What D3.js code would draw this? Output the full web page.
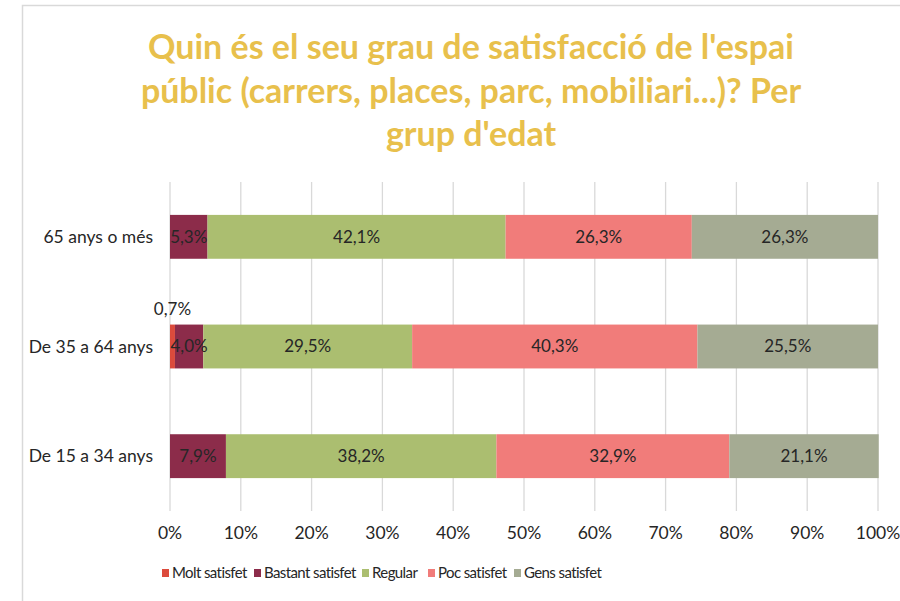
<!DOCTYPE html>
<html>
<head>
<meta charset="utf-8">
<script src="https://cdn.jsdelivr.net/npm/d3@7"></script>
<style>
body { margin:0; background:#fff; }
svg text { font-family: Lato, "Open Sans", sans-serif; }
</style>
</head>
<body>
<svg id="chart" width="900" height="601"></svg>
<script>
var groups = ["65 anys o més", "De 35 a 64 anys", "De 15 a 34 anys"];
var seriesNames = ["Molt satisfet", "Bastant satisfet", "Regular", "Poc satisfet", "Gens satisfet"];
var seriesColors = ["#dc4b3c", "#8c2c4a", "#abbe70", "#f17c7a", "#a5ab93"];
// values per group, in order of seriesNames
var molt    = [0, 0.7, 0];
var bastant = [5.3, 4.0, 7.9];
var regular = [42.1, 29.5, 38.2];
var poc     = [26.3, 40.3, 32.9];
var gens    = [26.3, 25.5, 21.1];
var xTicks = [0,10,20,30,40,50,60,70,80,90,100];
var titleLines = ["Quin és el seu grau de satisfacció de l'espai", "públic (carrers, places, parc, mobiliari...)? Per", "grup d'edat"];

var svg = d3.select("#chart");

//chart frame
svg.append("path")
	.attr("d","M22.5,601 L22.5,5.5 L900,5.5")
	.attr("fill","none")
	.attr("stroke","#d9d9d9")
	.attr("stroke-width",1.5);

//title
svg.append("g").selectAll("text")
	.data(titleLines)
	.enter().append("text")
	.attr("x",471)
	.attr("y",function(d,i){return 59 + i*43.5;})
	.attr("text-anchor","middle")
	.attr("font-size",34)
	.attr("font-weight","bold")
	.attr("fill","#e8c04c")
	.text(function(d){return d;});

var x = d3.scaleLinear().domain([0,100]).range([170,878]);
var y = d3.scaleBand().domain(groups).range([182,511]).paddingInner(0.6).paddingOuter(0.3);

//gridlines
svg.append("g").selectAll("line")
	.data(xTicks)
	.enter().append("line")
	.attr("x1",function(d){return x(d);})
	.attr("x2",function(d){return x(d);})
	.attr("y1",182)
	.attr("y2",511)
	.attr("stroke","#d9d9d9")
	.attr("stroke-width",1.3);

//stack data
var rows = groups.map(function(g,i){
	return {group:g, "Molt satisfet":molt[i], "Bastant satisfet":bastant[i], "Regular":regular[i], "Poc satisfet":poc[i], "Gens satisfet":gens[i]};
});
var stacked = d3.stack().keys(seriesNames)(rows);

var layers = svg.append("g").selectAll("g")
	.data(stacked)
	.enter().append("g")
	.attr("fill",function(d,i){return seriesColors[i];});

layers.selectAll("rect")
	.data(function(d){return d;})
	.enter().append("rect")
	.attr("x",function(d){return x(d[0]);})
	.attr("width",function(d){return x(d[1]) - x(d[0]);})
	.attr("y",function(d){return y(d.data.group);})
	.attr("height",y.bandwidth());

//data labels
function fmt(v){ return v.toFixed(1).replace(".",",") + "%"; }
stacked.forEach(function(s){
	s.forEach(function(d){
		var v = d[1] - d[0];
		if(v <= 0) return;
		var cx = (x(d[0]) + x(d[1])) / 2;
		var cy = y(d.data.group) + y.bandwidth()/2;
		if(v < 2){ cy = y(d.data.group) - 16; }
		svg.append("text")
			.attr("x",cx)
			.attr("y",cy)
			.attr("dy","0.35em")
			.attr("text-anchor","middle")
			.attr("font-size",17)
			.attr("fill","#262626")
			.text(fmt(v));
	});
});

//category axis labels
svg.append("g").selectAll("text")
	.data(groups)
	.enter().append("text")
	.attr("x",153)
	.attr("y",function(d){return y(d) + y.bandwidth()/2;})
	.attr("dy","0.35em")
	.attr("text-anchor","end")
	.attr("font-size",17.5)
	.attr("fill","#262626")
	.text(function(d){return d;});

//x axis labels
svg.append("g").selectAll("text")
	.data(xTicks)
	.enter().append("text")
	.attr("x",function(d){return x(d);})
	.attr("y",533)
	.attr("dy","0.35em")
	.attr("text-anchor","middle")
	.attr("font-size",17.5)
	.attr("fill","#262626")
	.text(function(d){return d + "%";});

//legend
var legendX = [162, 254, 362, 428, 514];
var legend = svg.append("g").selectAll("g")
	.data(seriesNames)
	.enter().append("g")
	.attr("transform",function(d,i){return "translate(" + legendX[i] + ",573)";});
legend.append("rect")
	.attr("x",0).attr("y",-4)
	.attr("width",7).attr("height",8)
	.attr("fill",function(d,i){return seriesColors[i];});
legend.append("text")
	.attr("x",10)
	.attr("dy","0.35em")
	.attr("font-size",15)
	.attr("letter-spacing",-0.6)
	.attr("fill","#262626")
	.text(function(d){return d;});
</script>
</body>
</html>
